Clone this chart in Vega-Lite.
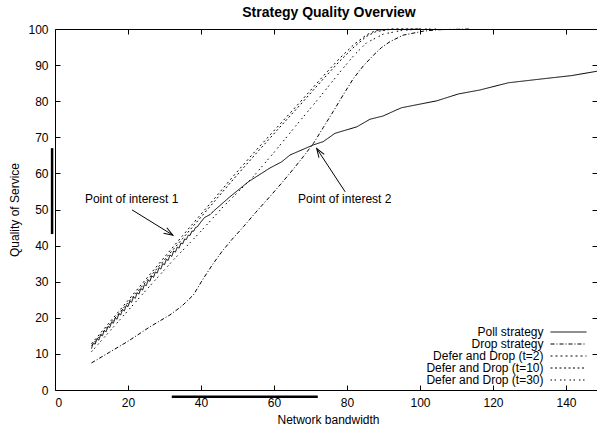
{
  "$schema": "https://vega.github.io/schema/vega-lite/v6.json",
  "width": 542,
  "height": 361,
  "autosize": {"type": "none"},
  "padding": {"left": 55, "top": 29, "right": 0, "bottom": 39},
  "background": "white",
  "title": {
    "text": "Strategy Quality Overview",
    "font": "Liberation Sans",
    "fontSize": 14,
    "fontWeight": "bold",
    "color": "black",
    "anchor": "middle",
    "offset": 3,
    "dx": 3
  },
  "config": {
    "view": {"stroke": "black", "strokeWidth": 1},
    "font": "Liberation Sans",
    "axis": {
      "domain": false,
      "grid": false,
      "tickColor": "black",
      "tickSize": -5,
      "tickWidth": 1,
      "labelColor": "black",
      "labelFont": "Liberation Sans",
      "labelFontSize": 12,
      "titleFont": "Liberation Sans",
      "titleFontSize": 12,
      "titleFontWeight": "normal",
      "titleColor": "black"
    }
  },
  "datasets": {
    "curves": [
      {"series": "Poll strategy", "x": 10, "y": 11.5},
      {"series": "Poll strategy", "x": 10.5, "y": 13.0},
      {"series": "Poll strategy", "x": 11, "y": 12.7},
      {"series": "Poll strategy", "x": 11.5, "y": 14.2},
      {"series": "Poll strategy", "x": 12, "y": 13.8},
      {"series": "Poll strategy", "x": 12.5, "y": 15.3},
      {"series": "Poll strategy", "x": 13, "y": 15.0},
      {"series": "Poll strategy", "x": 13.5, "y": 16.5},
      {"series": "Poll strategy", "x": 14, "y": 16.1},
      {"series": "Poll strategy", "x": 14.5, "y": 17.6},
      {"series": "Poll strategy", "x": 15, "y": 17.3},
      {"series": "Poll strategy", "x": 15.5, "y": 18.8},
      {"series": "Poll strategy", "x": 16, "y": 18.5},
      {"series": "Poll strategy", "x": 16.5, "y": 20.0},
      {"series": "Poll strategy", "x": 17, "y": 19.6},
      {"series": "Poll strategy", "x": 17.5, "y": 21.1},
      {"series": "Poll strategy", "x": 18, "y": 20.8},
      {"series": "Poll strategy", "x": 18.5, "y": 22.3},
      {"series": "Poll strategy", "x": 19, "y": 21.9},
      {"series": "Poll strategy", "x": 19.5, "y": 23.4},
      {"series": "Poll strategy", "x": 20, "y": 23.1},
      {"series": "Poll strategy", "x": 20.5, "y": 24.6},
      {"series": "Poll strategy", "x": 21, "y": 24.3},
      {"series": "Poll strategy", "x": 21.5, "y": 25.8},
      {"series": "Poll strategy", "x": 22, "y": 25.4},
      {"series": "Poll strategy", "x": 22.5, "y": 26.9},
      {"series": "Poll strategy", "x": 23, "y": 26.6},
      {"series": "Poll strategy", "x": 23.5, "y": 28.1},
      {"series": "Poll strategy", "x": 24, "y": 27.7},
      {"series": "Poll strategy", "x": 24.5, "y": 29.2},
      {"series": "Poll strategy", "x": 25, "y": 28.9},
      {"series": "Poll strategy", "x": 25.5, "y": 30.4},
      {"series": "Poll strategy", "x": 26, "y": 30.1},
      {"series": "Poll strategy", "x": 26.5, "y": 31.6},
      {"series": "Poll strategy", "x": 27, "y": 31.2},
      {"series": "Poll strategy", "x": 27.5, "y": 32.7},
      {"series": "Poll strategy", "x": 28, "y": 32.4},
      {"series": "Poll strategy", "x": 28.5, "y": 33.9},
      {"series": "Poll strategy", "x": 29, "y": 33.5},
      {"series": "Poll strategy", "x": 29.5, "y": 35.0},
      {"series": "Poll strategy", "x": 30, "y": 34.7},
      {"series": "Poll strategy", "x": 30.5, "y": 36.2},
      {"series": "Poll strategy", "x": 31, "y": 35.9},
      {"series": "Poll strategy", "x": 31.5, "y": 37.4},
      {"series": "Poll strategy", "x": 32, "y": 37.0},
      {"series": "Poll strategy", "x": 32.5, "y": 38.5},
      {"series": "Poll strategy", "x": 33, "y": 38.2},
      {"series": "Poll strategy", "x": 33.5, "y": 39.6},
      {"series": "Poll strategy", "x": 34, "y": 39.3},
      {"series": "Poll strategy", "x": 34.5, "y": 40.7},
      {"series": "Poll strategy", "x": 35, "y": 40.5},
      {"series": "Poll strategy", "x": 35.5, "y": 41.8},
      {"series": "Poll strategy", "x": 36, "y": 41.7},
      {"series": "Poll strategy", "x": 36.5, "y": 42.9},
      {"series": "Poll strategy", "x": 37, "y": 42.8},
      {"series": "Poll strategy", "x": 37.5, "y": 44.0},
      {"series": "Poll strategy", "x": 38, "y": 44.0},
      {"series": "Poll strategy", "x": 38.5, "y": 45.0},
      {"series": "Poll strategy", "x": 39, "y": 45.2},
      {"series": "Poll strategy", "x": 40, "y": 46.6},
      {"series": "Poll strategy", "x": 41, "y": 47.8},
      {"series": "Poll strategy", "x": 42.5, "y": 48.6},
      {"series": "Poll strategy", "x": 43.5, "y": 49.6},
      {"series": "Poll strategy", "x": 47.9, "y": 53.5},
      {"series": "Poll strategy", "x": 53, "y": 57.7},
      {"series": "Poll strategy", "x": 58.9, "y": 61.5},
      {"series": "Poll strategy", "x": 62.1, "y": 63.2},
      {"series": "Poll strategy", "x": 64.4, "y": 65.1},
      {"series": "Poll strategy", "x": 70.8, "y": 67.9},
      {"series": "Poll strategy", "x": 73.5, "y": 68.8},
      {"series": "Poll strategy", "x": 76.7, "y": 71.1},
      {"series": "Poll strategy", "x": 82.7, "y": 72.9},
      {"series": "Poll strategy", "x": 86.3, "y": 75.0},
      {"series": "Poll strategy", "x": 89.9, "y": 75.9},
      {"series": "Poll strategy", "x": 93.6, "y": 77.6},
      {"series": "Poll strategy", "x": 95, "y": 78.2},
      {"series": "Poll strategy", "x": 104.6, "y": 80.1},
      {"series": "Poll strategy", "x": 110.5, "y": 82.0},
      {"series": "Poll strategy", "x": 116.4, "y": 83.1},
      {"series": "Poll strategy", "x": 124.2, "y": 85.1},
      {"series": "Poll strategy", "x": 131.9, "y": 86.0},
      {"series": "Poll strategy", "x": 141.6, "y": 87.1},
      {"series": "Poll strategy", "x": 148.5, "y": 88.3},

      {"series": "Drop strategy", "x": 10, "y": 7.5},
      {"series": "Drop strategy", "x": 15, "y": 10.5},
      {"series": "Drop strategy", "x": 20, "y": 13.5},
      {"series": "Drop strategy", "x": 26, "y": 17.5},
      {"series": "Drop strategy", "x": 31.5, "y": 20.8},
      {"series": "Drop strategy", "x": 34.7, "y": 23.2},
      {"series": "Drop strategy", "x": 37.9, "y": 26.3},
      {"series": "Drop strategy", "x": 40.6, "y": 30.8},
      {"series": "Drop strategy", "x": 43.4, "y": 35.1},
      {"series": "Drop strategy", "x": 45.7, "y": 38.3},
      {"series": "Drop strategy", "x": 48.4, "y": 41.6},
      {"series": "Drop strategy", "x": 51.6, "y": 45.2},
      {"series": "Drop strategy", "x": 55, "y": 49.2},
      {"series": "Drop strategy", "x": 58.9, "y": 53.6},
      {"series": "Drop strategy", "x": 62, "y": 57.2},
      {"series": "Drop strategy", "x": 65.3, "y": 61.2},
      {"series": "Drop strategy", "x": 68, "y": 64.6},
      {"series": "Drop strategy", "x": 70.8, "y": 68.3},
      {"series": "Drop strategy", "x": 73.5, "y": 72.7},
      {"series": "Drop strategy", "x": 76.2, "y": 77.1},
      {"series": "Drop strategy", "x": 79, "y": 81.8},
      {"series": "Drop strategy", "x": 81.7, "y": 86.2},
      {"series": "Drop strategy", "x": 84.5, "y": 89.8},
      {"series": "Drop strategy", "x": 87.2, "y": 92.7},
      {"series": "Drop strategy", "x": 89.5, "y": 94.9},
      {"series": "Drop strategy", "x": 91.8, "y": 96.5},
      {"series": "Drop strategy", "x": 95.4, "y": 98.3},
      {"series": "Drop strategy", "x": 100.9, "y": 99.4},
      {"series": "Drop strategy", "x": 105, "y": 99.8},
      {"series": "Drop strategy", "x": 113.7, "y": 100},

      {"series": "Defer and Drop (t=2)", "x": 10, "y": 12.8},
      {"series": "Defer and Drop (t=2)", "x": 15, "y": 18.8},
      {"series": "Defer and Drop (t=2)", "x": 20, "y": 24.8},
      {"series": "Defer and Drop (t=2)", "x": 25, "y": 30.8},
      {"series": "Defer and Drop (t=2)", "x": 30, "y": 36.8},
      {"series": "Defer and Drop (t=2)", "x": 35, "y": 42.8},
      {"series": "Defer and Drop (t=2)", "x": 40, "y": 48.7},
      {"series": "Defer and Drop (t=2)", "x": 45, "y": 54.6},
      {"series": "Defer and Drop (t=2)", "x": 48.9, "y": 59.3},
      {"series": "Defer and Drop (t=2)", "x": 55, "y": 66.3},
      {"series": "Defer and Drop (t=2)", "x": 61.6, "y": 73.6},
      {"series": "Defer and Drop (t=2)", "x": 67.1, "y": 79.7},
      {"series": "Defer and Drop (t=2)", "x": 73, "y": 86.4},
      {"series": "Defer and Drop (t=2)", "x": 78, "y": 91.9},
      {"series": "Defer and Drop (t=2)", "x": 82, "y": 95.8},
      {"series": "Defer and Drop (t=2)", "x": 85.4, "y": 98.4},
      {"series": "Defer and Drop (t=2)", "x": 88, "y": 99.6},
      {"series": "Defer and Drop (t=2)", "x": 92, "y": 100},
      {"series": "Defer and Drop (t=2)", "x": 100, "y": 100},

      {"series": "Defer and Drop (t=10)", "x": 10, "y": 12.3},
      {"series": "Defer and Drop (t=10)", "x": 15, "y": 18.2},
      {"series": "Defer and Drop (t=10)", "x": 20, "y": 24.2},
      {"series": "Defer and Drop (t=10)", "x": 25, "y": 30.1},
      {"series": "Defer and Drop (t=10)", "x": 30, "y": 36.1},
      {"series": "Defer and Drop (t=10)", "x": 35, "y": 42.0},
      {"series": "Defer and Drop (t=10)", "x": 40, "y": 47.9},
      {"series": "Defer and Drop (t=10)", "x": 45, "y": 53.8},
      {"series": "Defer and Drop (t=10)", "x": 48.9, "y": 58.4},
      {"series": "Defer and Drop (t=10)", "x": 55, "y": 65.4},
      {"series": "Defer and Drop (t=10)", "x": 61.6, "y": 72.8},
      {"series": "Defer and Drop (t=10)", "x": 67.1, "y": 78.9},
      {"series": "Defer and Drop (t=10)", "x": 73, "y": 85.6},
      {"series": "Defer and Drop (t=10)", "x": 78, "y": 91.1},
      {"series": "Defer and Drop (t=10)", "x": 82, "y": 95.1},
      {"series": "Defer and Drop (t=10)", "x": 85.4, "y": 98.0},
      {"series": "Defer and Drop (t=10)", "x": 88, "y": 99.3},
      {"series": "Defer and Drop (t=10)", "x": 92, "y": 99.9},
      {"series": "Defer and Drop (t=10)", "x": 100, "y": 100},

      {"series": "Defer and Drop (t=30)", "x": 10, "y": 10.6},
      {"series": "Defer and Drop (t=30)", "x": 15, "y": 16.3},
      {"series": "Defer and Drop (t=30)", "x": 20, "y": 22.0},
      {"series": "Defer and Drop (t=30)", "x": 25, "y": 27.7},
      {"series": "Defer and Drop (t=30)", "x": 30, "y": 33.3},
      {"series": "Defer and Drop (t=30)", "x": 32.4, "y": 36.0},
      {"series": "Defer and Drop (t=30)", "x": 37, "y": 40.8},
      {"series": "Defer and Drop (t=30)", "x": 40, "y": 44.0},
      {"series": "Defer and Drop (t=30)", "x": 46.1, "y": 50.8},
      {"series": "Defer and Drop (t=30)", "x": 53.9, "y": 58.6},
      {"series": "Defer and Drop (t=30)", "x": 60, "y": 65.8},
      {"series": "Defer and Drop (t=30)", "x": 66, "y": 73.2},
      {"series": "Defer and Drop (t=30)", "x": 72.6, "y": 81.2},
      {"series": "Defer and Drop (t=30)", "x": 78, "y": 88.0},
      {"series": "Defer and Drop (t=30)", "x": 82, "y": 92.8},
      {"series": "Defer and Drop (t=30)", "x": 85.4, "y": 96.2},
      {"series": "Defer and Drop (t=30)", "x": 90, "y": 98.6},
      {"series": "Defer and Drop (t=30)", "x": 95, "y": 99.6},
      {"series": "Defer and Drop (t=30)", "x": 100, "y": 100},
      {"series": "Defer and Drop (t=30)", "x": 105, "y": 100}
    ],
    "vbar": [{"x": -0.8, "y": 43.2, "y2": 67.0}],
    "hbar": [{"x": 32, "x2": 72, "y": -1.9}],
    "notes": [
      {"label": "Point of interest 1", "x": 8.2, "y": 52.9},
      {"label": "Point of interest 2", "x": 66.6, "y": 53.0}
    ],
    "arrows": [
      {"id": 1, "x": 21.1, "y": 49.9, "x2": 32.3, "y2": 42.9},
      {"id": 2, "x": 79.5, "y": 54.9, "x2": 71.7, "y2": 66.9}
    ]
  },
  "layer": [
    {
      "data": {"name": "curves"},
      "mark": {"type": "line", "color": "black", "strokeWidth": 1},
      "encoding": {
        "x": {
          "field": "x",
          "type": "quantitative",
          "scale": {"domain": [0, 148.5], "nice": false, "zero": false},
          "axis": {
            "orient": "bottom",
            "values": [0, 20, 40, 60, 80, 100, 120, 140],
            "labelPadding": 12,
            "title": "Network bandwidth",
            "titleX": 273,
            "titleY": 29,
            "titleBaseline": "middle",
            "titleAnchor": null
          }
        },
        "y": {
          "field": "y",
          "type": "quantitative",
          "scale": {"domain": [0, 100], "nice": false, "zero": false},
          "axis": {
            "orient": "left",
            "values": [0, 10, 20, 30, 40, 50, 60, 70, 80, 90, 100],
            "labelPadding": 12,
            "title": "Quality of Service",
            "titleX": -41,
            "titleY": 180.5,
            "titleAngle": -90,
            "titleAlign": "center",
            "titleBaseline": "middle",
            "titleAnchor": null
          }
        },
        "strokeDash": {
          "field": "series",
          "type": "nominal",
          "scale": {
            "domain": ["Poll strategy", "Drop strategy", "Defer and Drop (t=2)", "Defer and Drop (t=10)", "Defer and Drop (t=30)"],
            "range": [[1, 0], [4, 2, 1, 2], [2, 3], [2, 2.5], [1.5, 2.5, 1.5, 4]]
          },
          "legend": {
            "orient": "none",
            "legendX": 507.5,
            "legendY": 297,
            "title": null,
            "padding": 0,
            "symbolType": "M -6 0 L 6 0",
            "symbolSize": 36,
            "symbolStrokeColor": "black",
            "symbolStrokeWidth": 1,
            "symbolFillColor": "transparent",
            "symbolOffset": 0,
            "labelAlign": "right",
            "labelOffset": -31,
            "labelFont": "Liberation Sans",
            "labelFontSize": 12,
            "labelColor": "black",
            "labelLimit": 400,
            "rowPadding": 0
          }
        }
      }
    },
    {
      "data": {"name": "vbar"},
      "mark": {"type": "rule", "color": "black", "strokeWidth": 2.5},
      "encoding": {
        "x": {
          "field": "x",
          "type": "quantitative",
          "axis": {
            "orient": "top",
            "values": [20, 40, 60, 80, 100, 120, 140],
            "labels": false,
            "title": null
          }
        },
        "y": {
          "field": "y",
          "type": "quantitative",
          "axis": {
            "orient": "right",
            "values": [10, 20, 30, 40, 50, 60, 70, 80, 90],
            "labels": false,
            "title": null
          }
        },
        "y2": {"field": "y2"}
      }
    },
    {
      "data": {"name": "hbar"},
      "mark": {"type": "rule", "color": "black", "strokeWidth": 2.5},
      "encoding": {
        "x": {"field": "x", "type": "quantitative", "axis": null},
        "x2": {"field": "x2"},
        "y": {"field": "y", "type": "quantitative", "axis": null}
      }
    },
    {
      "data": {"name": "notes"},
      "mark": {"type": "text", "align": "left", "baseline": "middle", "font": "Liberation Sans", "fontSize": 12, "color": "black"},
      "encoding": {
        "x": {"field": "x", "type": "quantitative", "axis": null},
        "y": {"field": "y", "type": "quantitative", "axis": null},
        "text": {"field": "label"}
      }
    },
    {
      "data": {"name": "arrows"},
      "mark": {"type": "rule", "color": "black", "strokeWidth": 1},
      "encoding": {
        "x": {"field": "x", "type": "quantitative", "axis": null},
        "y": {"field": "y", "type": "quantitative", "axis": null},
        "x2": {"field": "x2"},
        "y2": {"field": "y2"}
      }
    },
    {
      "data": {"name": "arrows"},
      "transform": [{"filter": "datum.id == 1"}],
      "mark": {"type": "point", "shape": "M -0.35 1 L 0 0 L 0.35 1", "filled": false, "stroke": "black", "strokeWidth": 1, "size": 324, "angle": 121, "opacity": 1},
      "encoding": {
        "x": {"field": "x2", "type": "quantitative", "axis": null},
        "y": {"field": "y2", "type": "quantitative", "axis": null}
      }
    },
    {
      "data": {"name": "arrows"},
      "transform": [{"filter": "datum.id == 2"}],
      "mark": {"type": "point", "shape": "M -0.35 1 L 0 0 L 0.35 1", "filled": false, "stroke": "black", "strokeWidth": 1, "size": 324, "angle": 327, "opacity": 1},
      "encoding": {
        "x": {"field": "x2", "type": "quantitative", "axis": null},
        "y": {"field": "y2", "type": "quantitative", "axis": null}
      }
    }
  ],
  "resolve": {"axis": {"x": "independent", "y": "independent"}}
}
